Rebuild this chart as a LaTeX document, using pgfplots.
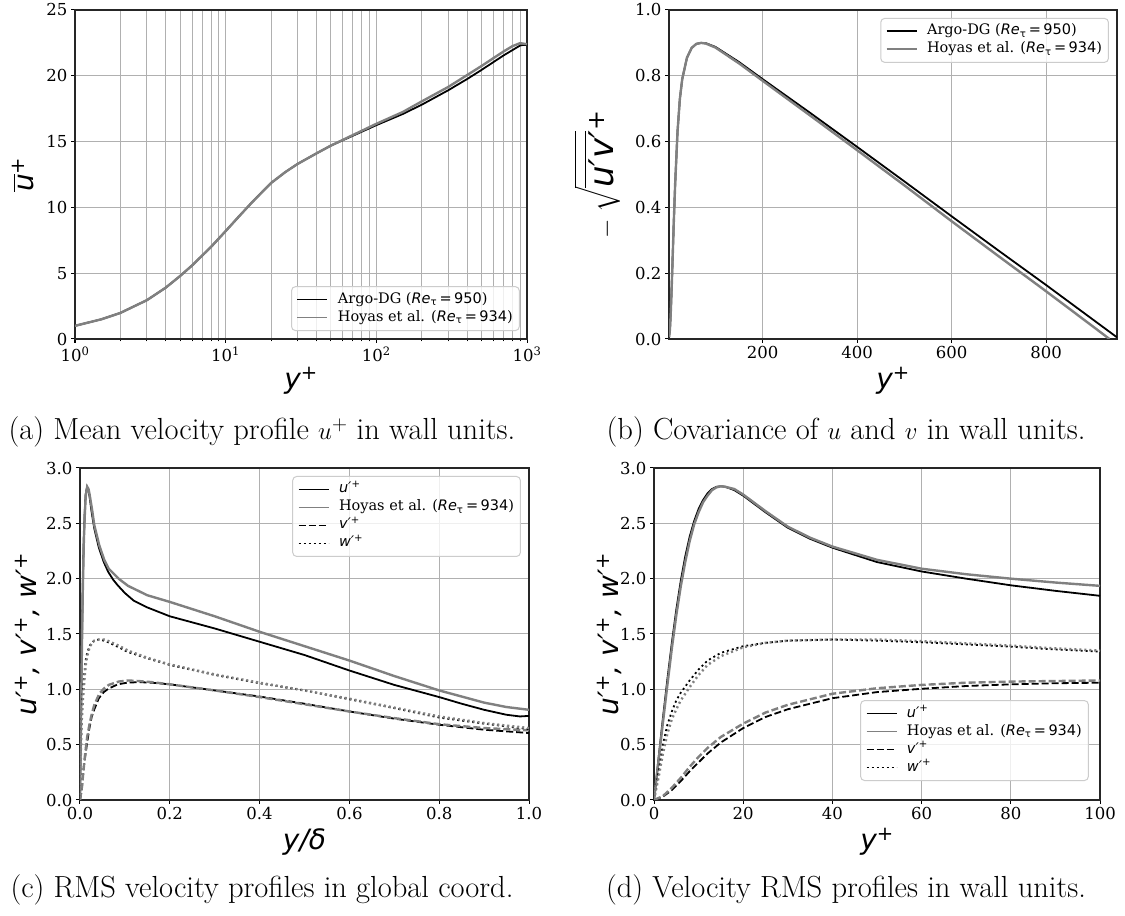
\documentclass[border=0pt]{standalone}
\usepackage{fontspec}
\usepackage{amsmath}
\usepackage{pgfplots}
\pgfplotsset{compat=1.18}
\newfontfamily\dvs{DejaVu Serif}
\newfontfamily\dvsans{DejaVu Sans}
\definecolor{hoy}{HTML}{808080}
\definecolor{gridc}{HTML}{B0B0B0}
\definecolor{legedge}{HTML}{CCCCCC}
\newcommand\tickfont{\dvs\fontsize{16.5}{18}\selectfont}
\newcommand\legfont{\dvs\fontsize{14.5}{16}\selectfont}
\newcommand\labfont{\dvsans\itshape\fontsize{28}{30}\selectfont}
\newcommand\labfontb{\dvsans\itshape\fontsize{34}{36}\selectfont}
\newcommand\capfont{\fontsize{30.5}{36}\selectfont}
\newcommand\sps[1]{\textsuperscript{\upshape #1}}
\newcommand\pr{\char"2032\relax}
\newcommand\Ret[1]{{\dvsans\itshape Re}\textsubscript{\dvsans\char"03C4}{\dvsans\,=\,#1}}
\pgfplotsset{
 mystyle/.style={
  scale only axis,
  axis background/.style={fill=white},
  tick align=outside, tick pos=left,
  major tick length=4pt, minor tick length=2.5pt,
  every tick/.style={black, line width=1pt},
  xmajorgrids=true, ymajorgrids=true,
  major grid style={gridc, line width=1pt},
  axis line style={line width=1.2pt, black!85},
  ticklabel style={font=\tickfont},
  /pgf/number format/assume math mode=true,
  legend style={font=\legfont, draw=legedge, line width=1pt, rounded corners=4pt,
    fill=white, fill opacity=0.8, text opacity=1, draw opacity=1,
    inner xsep=5pt, inner ysep=4pt, row sep=0pt, column sep=8pt,
    cells={anchor=west}, nodes={inner sep=1.5pt, text height=11pt, text depth=4pt}},
  legend image code/.code={\draw[line width=1.8pt,##1] (0pt,0pt) -- (30pt,0pt);},
  legend cell align=left,
 },
 blk/.style={black, line width=1.8pt},
 gry/.style={hoy, line width=2.4pt},
 dsh/.style={dash pattern=on 7pt off 3pt},
 dtt/.style={dash pattern=on 2pt off 3pt},
 yfix/.style={yticklabel style={/pgf/number format/.cd, fixed, fixed zerofill, precision=1}},
}
\begin{document}
\begin{tikzpicture}
\path[use as bounding box] (0pt,0pt) rectangle (1125pt,916pt);
% ---------- (a)
\begin{axis}[mystyle, at={(75pt,577pt)}, anchor=south west, width=452pt, height=329pt,
  xmode=log, xmin=1, xmax=1000, ymin=0, ymax=25,
  xtick={1,10,100,1000}, xticklabels={10\sps{0},10\sps{1},10\sps{2},10\sps{3}},
  minor xtick={2,3,4,5,6,7,8,9,20,30,40,50,60,70,80,90,200,300,400,500,600,700,800,900},
  xminorgrids=true, minor grid style={gridc, line width=1pt},
  ytick={0,5,10,15,20,25},
  xlabel={\labfont y\sps{+}}, xlabel style={at={(axis description cs:0.5,-0.128)}, anchor=center},
  ylabel={\labfont$\overline{\mbox{u}}$\sps{+}}, ylabel style={at={(axis description cs:-0.115,0.5)}, anchor=center},
  legend style={at={(0.984,0.024)}, anchor=south east}]
\addplot[blk] coordinates {(1,1.0)(1.5,1.5)(2,1.98)(3,2.95)(4,3.9)(5,4.8)(6,5.6)(7,6.35)(8,7.0)(10,8.2)(12,9.2)(15,10.4)(20,11.85)(25,12.7)(30,13.3)(40,14.1)(50,14.7)(70,15.45)(100,16.25)(150,17.1)(200,17.8)(300,18.9)(400,19.75)(500,20.45)(600,21.05)(700,21.55)(800,21.95)(900,22.3)(950,22.35)(1000,22.35)};
\addlegendentry{Argo-DG (\Ret{950})}
\addplot[gry] coordinates {(1,1.0)(1.5,1.5)(2,1.98)(3,2.95)(4,3.9)(5,4.8)(6,5.6)(7,6.35)(8,7.0)(10,8.2)(12,9.2)(15,10.4)(20,11.85)(25,12.7)(30,13.3)(40,14.1)(50,14.7)(70,15.5)(100,16.35)(150,17.25)(200,18.05)(300,19.15)(400,20.05)(500,20.75)(600,21.35)(700,21.85)(800,22.25)(900,22.48)(934,22.45)(1000,22.4)};
\addlegendentry{Hoyas et al. (\Ret{934})}
\end{axis}
% ---------- (b)
\begin{axis}[mystyle, yfix, at={(669pt,577pt)}, anchor=south west, width=448pt, height=329pt,
  xmin=2, xmax=950, ymin=0, ymax=1,
  xtick={200,400,600,800}, ytick={0,0.2,0.4,0.6,0.8,1.0},
  xlabel={\labfont y\sps{+}}, xlabel style={at={(axis description cs:0.5,-0.128)}, anchor=center},
  ylabel={\labfontb$-\;\sqrt{\overline{\mbox{u\pr v\pr}}}$\sps{+}}, ylabel style={at={(axis description cs:-0.16,0.5)}, anchor=center},
  legend style={at={(0.982,0.976)}, anchor=north east}]
\addplot[blk] coordinates {(2,0.005)(4,0.03)(6,0.09)(8,0.17)(10,0.26)(12,0.35)(15,0.47)(20,0.63)(25,0.73)(30,0.79)(40,0.855)(50,0.885)(60,0.897)(70,0.9)(80,0.899)(100,0.888)(150,0.842)(200,0.79)(300,0.688)(400,0.584)(500,0.479)(600,0.373)(700,0.268)(800,0.164)(900,0.058)(950,0.005)};
\addlegendentry{Argo-DG (\Ret{950})}
\addplot[gry] coordinates {(2,0.005)(4,0.03)(6,0.09)(8,0.17)(10,0.26)(12,0.35)(15,0.47)(20,0.63)(25,0.73)(30,0.79)(40,0.855)(50,0.885)(60,0.897)(70,0.9)(80,0.898)(100,0.886)(150,0.838)(200,0.785)(300,0.68)(400,0.574)(500,0.467)(600,0.358)(700,0.251)(800,0.145)(900,0.037)(934,0.0)};
\addlegendentry{Hoyas et al. (\Ret{934})}
\end{axis}
% ---------- (c)
\begin{axis}[mystyle, yfix, at={(80pt,116pt)}, anchor=south west, width=449pt, height=332pt,
  xmin=0, xmax=1, ymin=0, ymax=3,
  xtick={0,0.2,0.4,0.6,0.8,1}, ytick={0,0.5,1,1.5,2,2.5,3},
  xticklabel style={/pgf/number format/.cd, fixed, fixed zerofill, precision=1},
  xlabel={\labfont y/\char"03B4}, xlabel style={at={(axis description cs:0.5,-0.127)}, anchor=center},
  ylabel={\labfont u\pr\sps{+}, v\pr\sps{+}, w\pr\sps{+}}, ylabel style={at={(axis description cs:-0.116,0.5)}, anchor=center},
  legend style={at={(0.982,0.976)}, anchor=north east}]
\addplot[blk] coordinates {(0,0)(0.002,0.7)(0.004,1.35)(0.006,1.9)(0.008,2.3)(0.0105,2.6)(0.0126,2.76)(0.0158,2.83)(0.018,2.81)(0.021,2.75)(0.026,2.6)(0.032,2.45)(0.042,2.28)(0.053,2.15)(0.063,2.06)(0.074,1.99)(0.084,1.94)(0.1,1.87)(0.12,1.8)(0.15,1.74)(0.2,1.66)(0.3,1.55)(0.4,1.43)(0.5,1.31)(0.6,1.17)(0.7,1.04)(0.8,0.93)(0.85,0.87)(0.9,0.815)(0.95,0.77)(0.98,0.755)(1.0,0.76)};
\addlegendentry{{\dvsans\itshape u\pr\sps{+}}}
\addplot[gry] coordinates {(0,0)(0.002,0.68)(0.004,1.3)(0.006,1.85)(0.0086,2.35)(0.0107,2.58)(0.0128,2.75)(0.016,2.83)(0.019,2.81)(0.0214,2.76)(0.027,2.62)(0.032,2.48)(0.043,2.3)(0.054,2.17)(0.064,2.09)(0.086,2.0)(0.107,1.935)(0.15,1.85)(0.2,1.79)(0.3,1.66)(0.4,1.52)(0.5,1.39)(0.6,1.26)(0.7,1.12)(0.8,0.99)(0.9,0.88)(0.95,0.84)(1.0,0.815)};
\addlegendentry{Hoyas et al. (\Ret{934})}
\addplot[blk,dsh] coordinates {(0,0)(0.004,0.09)(0.0084,0.3)(0.0126,0.42)(0.016,0.52)(0.021,0.65)(0.026,0.75)(0.032,0.82)(0.042,0.92)(0.053,0.975)(0.063,1.005)(0.084,1.045)(0.105,1.06)(0.13,1.065)(0.16,1.06)(0.2,1.045)(0.3,0.99)(0.4,0.935)(0.5,0.87)(0.6,0.8)(0.7,0.735)(0.8,0.68)(0.9,0.635)(1.0,0.605)};
\addlegendentry{{\dvsans\itshape v\pr\sps{+}}}
\addplot[gry,dsh,forget plot] coordinates {(0,0)(0.004,0.11)(0.0086,0.3)(0.0107,0.39)(0.016,0.57)(0.0214,0.69)(0.027,0.79)(0.032,0.86)(0.043,0.96)(0.054,1.01)(0.064,1.04)(0.086,1.07)(0.107,1.08)(0.13,1.075)(0.16,1.065)(0.2,1.045)(0.3,0.99)(0.4,0.93)(0.5,0.865)(0.6,0.8)(0.7,0.74)(0.8,0.685)(0.9,0.65)(1.0,0.63)};
\addplot[blk,dtt] coordinates {(0,0)(0.001,0.25)(0.002,0.5)(0.004,0.8)(0.006,0.97)(0.0084,1.08)(0.0105,1.18)(0.0126,1.26)(0.016,1.33)(0.021,1.39)(0.026,1.42)(0.032,1.44)(0.042,1.45)(0.053,1.44)(0.063,1.425)(0.084,1.385)(0.105,1.34)(0.15,1.28)(0.2,1.22)(0.3,1.13)(0.4,1.055)(0.5,0.99)(0.6,0.91)(0.7,0.83)(0.8,0.745)(0.9,0.69)(1.0,0.64)};
\addlegendentry{{\dvsans\itshape w\pr\sps{+}}}
\addplot[gry,dtt,forget plot] coordinates {(0,0)(0.001,0.2)(0.002,0.42)(0.004,0.73)(0.0064,0.9)(0.0086,1.02)(0.0107,1.13)(0.0128,1.22)(0.016,1.3)(0.0214,1.38)(0.027,1.42)(0.032,1.44)(0.043,1.45)(0.054,1.45)(0.064,1.435)(0.086,1.395)(0.107,1.35)(0.15,1.285)(0.2,1.225)(0.3,1.135)(0.4,1.06)(0.5,0.99)(0.6,0.915)(0.7,0.835)(0.8,0.755)(0.9,0.695)(1.0,0.65)};
\end{axis}
% ---------- (d)
\begin{axis}[mystyle, yfix, at={(654pt,116pt)}, anchor=south west, width=446pt, height=332pt,
  xmin=0, xmax=100, ymin=0, ymax=3,
  xtick={0,20,40,60,80,100}, ytick={0,0.5,1,1.5,2,2.5,3},
  xlabel={\labfont y\sps{+}}, xlabel style={at={(axis description cs:0.5,-0.127)}, anchor=center},
  ylabel={\labfont u\pr\sps{+}, v\pr\sps{+}, w\pr\sps{+}}, ylabel style={at={(axis description cs:-0.099,0.5)}, anchor=center},
  legend style={at={(0.975,0.057)}, anchor=south east}]
\addplot[blk] coordinates {(0,0)(1,0.37)(2,0.74)(3,1.09)(4,1.42)(5,1.72)(6,1.98)(7,2.2)(8,2.38)(9,2.52)(10,2.63)(11,2.71)(12,2.77)(13,2.81)(14,2.83)(15,2.835)(16,2.83)(18,2.8)(20,2.75)(25,2.6)(30,2.46)(35,2.36)(40,2.28)(50,2.15)(60,2.065)(70,2.0)(80,1.94)(90,1.89)(100,1.845)};
\addlegendentry{{\dvsans\itshape u\pr\sps{+}}}
\addplot[gry] coordinates {(0,0)(1,0.35)(2,0.7)(3,1.04)(4,1.37)(5,1.67)(6,1.93)(7,2.15)(8,2.34)(9,2.49)(10,2.6)(11,2.69)(12,2.75)(13,2.8)(14,2.825)(15,2.835)(16,2.83)(18,2.81)(20,2.76)(25,2.61)(30,2.47)(35,2.37)(40,2.29)(50,2.17)(60,2.09)(70,2.04)(80,2.0)(90,1.965)(100,1.935)};
\addlegendentry{Hoyas et al. (\Ret{934})}
\addplot[blk,dsh] coordinates {(0,0)(2,0.03)(4,0.09)(6,0.17)(8,0.26)(10,0.34)(12,0.42)(15,0.52)(20,0.65)(25,0.75)(30,0.82)(40,0.92)(50,0.975)(60,1.005)(70,1.03)(80,1.045)(90,1.055)(100,1.06)};
\addlegendentry{{\dvsans\itshape v\pr\sps{+}}}
\addplot[gry,dsh,forget plot] coordinates {(0,0)(2,0.035)(4,0.11)(6,0.2)(8,0.3)(10,0.39)(12,0.47)(15,0.57)(20,0.69)(25,0.79)(30,0.86)(40,0.96)(50,1.01)(60,1.04)(70,1.06)(80,1.07)(90,1.075)(100,1.08)};
\addplot[blk,dtt] coordinates {(0,0)(1,0.25)(2,0.5)(3,0.68)(4,0.8)(5,0.9)(6,0.97)(8,1.08)(10,1.18)(12,1.26)(15,1.33)(20,1.39)(25,1.42)(30,1.44)(40,1.45)(50,1.44)(60,1.425)(70,1.405)(80,1.385)(90,1.36)(100,1.34)};
\addlegendentry{{\dvsans\itshape w\pr\sps{+}}}
\addplot[gry,dtt,forget plot] coordinates {(0,0)(1,0.2)(2,0.42)(3,0.6)(4,0.73)(5,0.82)(6,0.9)(8,1.02)(10,1.13)(12,1.22)(15,1.3)(20,1.38)(25,1.42)(30,1.44)(40,1.45)(50,1.45)(60,1.435)(70,1.415)(80,1.395)(90,1.37)(100,1.35)};
\end{axis}
% captions
\node[anchor=base, font=\capfont] at (262pt,476pt) {(a) Mean velocity profile $u^+$ in wall units.};
\node[anchor=base, font=\capfont] at (846pt,476pt) {(b) Covariance of $u$ and $v$ in wall units.};
\node[anchor=base, font=\capfont] at (262pt,18pt) {(c) RMS velocity profiles in global coord.};
\node[anchor=base, font=\capfont] at (846pt,18pt) {(d) Velocity RMS profiles in wall units.};
\end{tikzpicture}
\end{document}
